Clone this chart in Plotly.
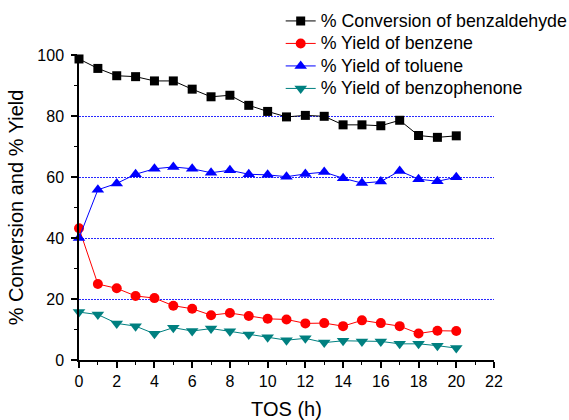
import plotly.graph_objects as go

tos = list(range(0, 21))
conversion = [98.7, 95.6, 93.2, 92.9, 91.5, 91.5, 88.8, 86.3, 86.8, 83.5, 81.5,
              79.7, 80.2, 79.9, 77.1, 77.1, 76.8, 78.6, 73.6, 73.0, 73.5]
benzene = [43.2, 24.9, 23.5, 21.0, 20.3, 17.8, 16.8, 14.7, 15.4, 14.4, 13.5,
           13.3, 12.0, 12.1, 11.1, 13.0, 12.1, 11.1, 8.7, 9.6, 9.5]
toluene = [40.0, 55.8, 57.9, 60.9, 62.7, 63.3, 62.7, 61.4, 62.2, 60.9, 60.7,
           60.1, 61.0, 61.6, 59.6, 58.0, 58.5, 62.0, 59.3, 58.6, 59.9]
benzophenone = [15.7, 14.9, 12.0, 11.1, 8.6, 10.6, 9.5, 10.3, 9.4, 8.4, 7.5,
                6.5, 7.1, 5.7, 6.3, 6.1, 6.1, 5.3, 5.3, 4.7, 3.9]
series_names = ["% Conversion of benzaldehyde", "% Yield of benzene",
                "% Yield of toluene", "% Yield of benzophenone"]
grid_values = [20, 40, 60, 80]

styles = [
    ("black", "square", 9),
    ("red", "circle", 10),
    ("blue", "triangle-up", 11),
    ("#008080", "triangle-down", 11),
]
data = [conversion, benzene, toluene, benzophenone]

fig = go.Figure()
for name, vals, (color, sym, size) in zip(series_names, data, styles):
    fig.add_trace(go.Scatter(
        x=tos, y=vals,
        name='<span style="font-size:17.8px">' + name + '</span>',
        mode="lines+markers",
        line=dict(color=color, width=1),
        marker=dict(symbol=sym, size=size, color=color),
        cliponaxis=False,
    ))

font_family = "Liberation Sans, Arial, sans-serif"
fig.update_layout(
    width=569, height=420,
    margin=dict(l=79, r=75, t=55, b=60, autoexpand=False),
    paper_bgcolor="white", plot_bgcolor="white",
    font=dict(family=font_family, size=16, color="black"),
    showlegend=True,
    legend=dict(x=0.486, y=1.165, xanchor="left", yanchor="top",
                bgcolor="rgba(0,0,0,0)", font=dict(size=15),
                tracegroupgap=0, itemwidth=30),
    xaxis=dict(
        range=[0, 22], dtick=2, tick0=0, showgrid=False, zeroline=False,
        showline=True, linecolor="black", linewidth=1.5,
        ticks="outside", ticklen=6, tickwidth=1.5, tickcolor="black",
        minor=dict(dtick=1, ticks="outside", ticklen=3, tickcolor="black", tickwidth=1),
        title=dict(text="TOS (h)", font=dict(size=20), standoff=13),
        tickfont=dict(size=16),
    ),
    yaxis=dict(
        range=[0, 100], dtick=20, tick0=0, showgrid=False, zeroline=False,
        showline=True, linecolor="black", linewidth=1.5,
        ticks="outside", ticklen=6, tickwidth=1.5, tickcolor="black",
        ticklabelstandoff=4,
        minor=dict(dtick=10, ticks="outside", ticklen=3, tickcolor="black", tickwidth=1),
        title=dict(text="% Conversion and % Yield", font=dict(size=20), standoff=8),
        tickfont=dict(size=16),
    ),
    yaxis2=dict(
        range=[0, 100], overlaying="y", side="left", tickvals=grid_values,
        showticklabels=False, ticks="", showline=False, zeroline=False,
        showgrid=True, gridcolor="rgb(40,40,255)", gridwidth=1, griddash="2px,1px",
        layer="below traces",
    ),
)
# invisible anchor trace so the grid axis is drawn
fig.add_trace(go.Scatter(x=[None], y=[None], yaxis="y2", showlegend=False,
                         hoverinfo="skip"))

fig.write_html("out.html")
